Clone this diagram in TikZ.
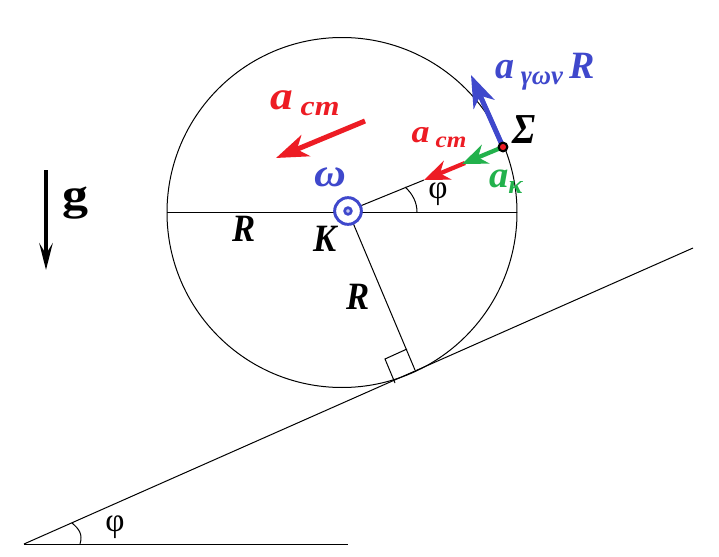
\documentclass[tikz,border=0pt]{standalone}
\usepackage{fontspec}
\setmainfont{Liberation Serif}
\usetikzlibrary{arrows.meta}
\newfontfamily\phifont{Liberation Serif}
\definecolor{cblue}{HTML}{3F48CC}
\definecolor{cred}{HTML}{ED1C24}
\definecolor{cgreen}{HTML}{22B14C}
\newcommand{\subl}[1]{\raisebox{-0.35ex}{\scriptsize #1}}
\tikzset{
  thin line/.style={draw=black,line width=0.75pt},
  lbl/.style={inner sep=0pt,outer sep=0pt,anchor=center,font=\bfseries\itshape},
  bigarrow/.style={line width=3.8pt,-{Stealth[length=24pt,width=17pt,inset=7pt]}},
  smallarrow/.style={line width=3.2pt,-{Stealth[length=19pt,width=15pt,inset=6pt]}},
}
\begin{document}
\begin{tikzpicture}[x=0.75pt,y=-0.75pt]
\useasboundingbox (0,0) rectangle (719,557);
\fill[white] (0,0) rectangle (719,557);
\coordinate (C) at (342,212.5);
\coordinate (K) at (348,211);
\coordinate (S) at (503,147);
\coordinate (HL) at (167,212);
\coordinate (HR) at (517,212);
\coordinate (T) at (415,370);
\coordinate (I0) at (24,544);
\coordinate (I1) at (693,248);
\coordinate (B1) at (348,544);
\coordinate (Q1) at (407,349);
\coordinate (Q2) at (385,359);
\coordinate (Q3) at (395,383);
\coordinate (A1) at (417,212);
\coordinate (A2) at (405,187);
\coordinate (D1) at (72,523);
\coordinate (D2) at (80,544);
\coordinate (G0) at (46,170);
\coordinate (G1) at (46,270);
\coordinate (BA) at (471,75);
\coordinate (R0) at (365,121);
\coordinate (R1) at (276,158);
\coordinate (R2) at (465,163);
\coordinate (R3) at (424,180);
\coordinate (GA) at (462,164);

% geometry
\node[circle,thin line,minimum size=262.5pt,inner sep=0pt] (wheel) at (C) {};
\draw[thin line] (HL) -- (HR);
\draw[thin line] (K) -- (R3);
\draw[thin line] (K) -- (T);
\draw[thin line] (I0) -- (I1);
\draw[thin line] (I0) -- (B1);
\draw[thin line] (Q1) -- (Q2) -- (Q3);
\draw[thin line] (A1) .. controls (417,203) and (413,194) .. (A2);
\draw[thin line] (D1) .. controls (79,529) and (83,534) .. (D2);

% centre marker
\node[circle,fill=white,draw=cblue,line width=2.2pt,minimum size=20pt,inner sep=0pt] (kc) at (K) {};
\node[circle,draw=cblue,line width=2pt,minimum size=5pt,inner sep=0pt,fill=cblue!30] (kd) at (K) {};

% arrows
\draw[line width=3pt,-{Stealth[length=20pt,width=10pt,inset=8pt]}] (G0) -- (G1);
\draw[bigarrow,cblue] (S) -- (BA);
\draw[bigarrow,cred] (R0) -- (R1);
\draw[smallarrow,cred] (R2) -- (R3);
\draw[smallarrow,cgreen] (S) -- (GA);
\node[circle,draw=black,fill=cred,line width=1.6pt,minimum size=6.5pt,inner sep=0pt] (sp) at (S) {};

% labels
\node[lbl,text=cred,xscale=3.4,yscale=3] (l1) at (305,103) {a\,\subl{cm}};
\node[lbl,text=cred,xscale=2.7,yscale=2.4] (l2) at (439,138) {a\,\subl{cm}};
\node[lbl,text=cblue,xscale=2.85,yscale=2.9] (l3) at (545,72) {a\,\subl{γων}\,R};
\node[lbl,text=cblue,xscale=3.3,yscale=3] (l4) at (330,177) {ω};
\node[lbl,text=cgreen,xscale=2.9,yscale=2.8] (l5) at (506,182) {a\subl{κ}};
\node[lbl,xscale=2.8,yscale=3.2] (l6) at (524,130) {Σ};
\node[lbl,xscale=2.6,yscale=2.9] (l7) at (244,229) {R};
\node[lbl,xscale=2.6,yscale=2.9] (l8) at (325,239) {K};
\node[lbl,xscale=2.6,yscale=2.9] (l9) at (358,297) {R};
\node[lbl,font=\bfseries,xscale=3.9,yscale=3.3] (l10) at (75,203) {g};
\node[inner sep=0pt,scale=2.5] (p1) at (438,194) {\phifont φ};
\node[inner sep=0pt,scale=2.5] (p2) at (115,527) {\phifont φ};
\end{tikzpicture}
\end{document}
